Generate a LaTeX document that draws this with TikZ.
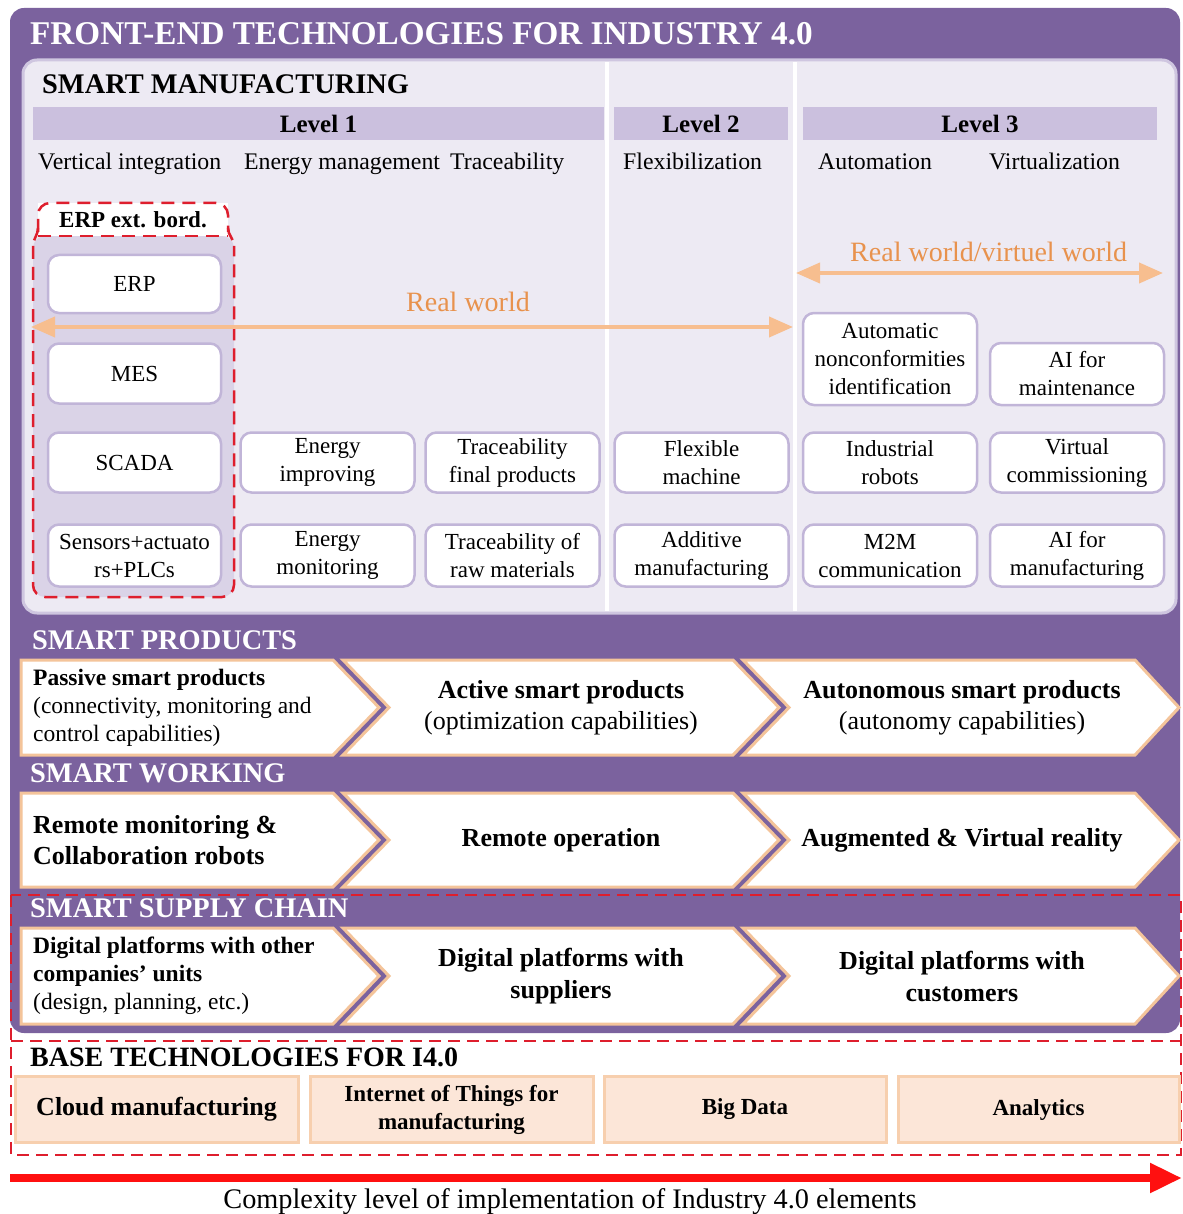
\documentclass[tikz,border=0pt]{standalone}
\usepackage{fontspec}
\setmainfont{Liberation Serif}
\usetikzlibrary{arrows.meta}
\definecolor{purp}{RGB}{123,98,158}
\definecolor{panel}{RGB}{237,234,243}
\definecolor{panelline}{RGB}{207,198,224}
\definecolor{levelbar}{RGB}{203,192,222}
\definecolor{boxline}{RGB}{193,181,216}
\definecolor{erpfill}{RGB}{218,211,231}
\definecolor{reddash}{RGB}{222,30,45}
\definecolor{orangearrow}{RGB}{247,190,143}
\definecolor{orangetext}{RGB}{232,146,77}
\definecolor{chevline}{RGB}{244,196,154}
\definecolor{basefill}{RGB}{252,230,216}
\definecolor{baseedge}{RGB}{247,207,174}
\definecolor{redarrow}{RGB}{255,16,16}
\newcommand\setfs[2]{\fontsize{#1}{#2}\selectfont}
\begin{document}
\begin{tikzpicture}[x=1pt,y=-1pt,
  techbox/.style={draw=boxline, fill=white, line width=2.5pt, rounded corners=11pt,
    align=center, font=\setfs{23}{28}, inner sep=0pt, minimum width=174pt, minimum height=60pt},
  levelbox/.style={fill=levelbar, inner sep=0pt, font=\setfs{25}{28}\bfseries, minimum height=33pt},
  sublabel/.style={anchor=base west, inner sep=0pt, font=\setfs{23.8}{28}},
  seclabel/.style={anchor=west, inner sep=0pt, text=white, font=\setfs{28.4}{32}\bfseries},
  warrow/.style={orangearrow, line width=4pt, {Triangle[length=24pt,width=20pt]}-{Triangle[length=24pt,width=20pt]}},
  wlabel/.style={anchor=base west, inner sep=0pt, text=orangetext, font=\setfs{28}{32}},
  chev/.style={draw=chevline, fill=white, line width=3pt, line join=miter},
  chevtxt/.style={align=center, inner sep=0pt, font=\setfs{26}{31}},
  chevfirst/.style={anchor=west, align=left, inner sep=0pt, font=\setfs{23.5}{28}},
  basebox/.style={draw=baseedge, fill=basefill, line width=3pt, align=center, inner sep=0pt,
    minimum width=280pt, minimum height=66pt, font=\setfs{23}{28}\bfseries},
  rdash/.style={draw=reddash, line width=2pt, dash pattern=on 12pt off 7pt}
]
\useasboundingbox (0,0) rectangle (1182,1214);
\fill[white] (0,0) rectangle (1182,1214);

% outer purple frame
\fill[purp, rounded corners=14pt] (10,8) rectangle (1180,1033);
\node[anchor=west, inner sep=0pt, text=white, font=\setfs{33.2}{36}\bfseries] (title) at (30,34)
  {FRONT-END TECHNOLOGIES FOR INDUSTRY 4.0};

% smart manufacturing panel
\draw[panelline, fill=panel, line width=3pt, rounded corners=14pt] (23,60) rectangle (1176,613);
\draw[white, line width=4pt] (607,62) -- (607,611);
\draw[white, line width=4pt] (795,62) -- (795,611);
\node[anchor=west, inner sep=0pt, font=\setfs{28.4}{32}\bfseries] (smtitle) at (42,84) {SMART MANUFACTURING};

\node[levelbox, minimum width=571pt] (lvl1) at (318.5,123.5) {Level 1};
\node[levelbox, minimum width=174pt] (lvl2) at (701,123.5) {Level 2};
\node[levelbox, minimum width=354pt] (lvl3) at (980,123.5) {Level 3};

\node[sublabel] (s1) at (38,170) {Vertical integration};
\node[sublabel] (s2) at (244,170) {Energy management};
\node[sublabel] (s3) at (450,170) {Traceability};
\node[sublabel] (s4) at (623,170) {Flexibilization};
\node[sublabel] (s5) at (818,170) {Automation};
\node[sublabel] (s6) at (989,170) {Virtualization};

% ERP extended border region
\fill[erpfill, rounded corners=12pt] (33,236) -- (33,597) -- (234,597) -- (234,236) -- cycle;
\fill[white] (38,203) rectangle (228,236);
\draw[reddash, line width=2.5pt, dash pattern=on 13pt off 8pt, rounded corners=12pt]
  (38,232) -- (38,203) -- (228,203) -- (228,232);
\draw[reddash, line width=2.5pt, dash pattern=on 13pt off 8pt]
  (38,236) -- (228,236);
\draw[reddash, line width=2.5pt, dash pattern=on 13pt off 8pt]
  (228,228) to[out=-90,in=90] (234,246);
\draw[reddash, line width=2.5pt, dash pattern=on 13pt off 8pt]
  (38,228) to[out=-90,in=90] (33,246);
\draw[reddash, line width=2.5pt, dash pattern=on 13pt off 8pt, rounded corners=12pt]
  (33,246) -- (33,597) -- (234,597) -- (234,246);
\node[inner sep=0pt, font=\setfs{23}{28}\bfseries] (erplabel) at (133,220) {ERP ext. bord.};

% column 1
\node[techbox, minimum width=173pt, minimum height=58pt] (erp) at (134.5,284) {ERP};
\node[techbox, minimum width=173pt] (mes) at (134.5,373.5) {MES};
\node[techbox, minimum width=173pt] (scada) at (134.5,462.5) {SCADA};
\node[techbox, minimum width=173pt, minimum height=62pt] (sens) at (134.5,555.5) {Sensors+actuato\\rs+PLCs};
% column 2, 3
\node[techbox] (enimp) at (327.5,462.5) {Energy\\improving};
\node[techbox, minimum height=62pt] (enmon) at (327.5,555.5) {Energy\\monitoring};
\node[techbox] (trfin) at (512.5,462.5) {Traceability\\final products};
\node[techbox, minimum height=62pt] (trraw) at (512.5,555.5) {Traceability of\\raw materials};
% column 4
\node[techbox] (flex) at (701.5,462.5) {Flexible\\machine};
\node[techbox, minimum height=62pt] (addm) at (701.5,555.5) {Additive\\manufacturing};
% column 5
\node[techbox, minimum height=92pt] (anc) at (890,359) {Automatic\\nonconformities\\identification};
\node[techbox] (indr) at (890,462.5) {Industrial\\robots};
\node[techbox, minimum height=62pt] (m2m) at (890,555.5) {M2M\\communication};
% column 6
\node[techbox, minimum height=62pt] (aimt) at (1077,374) {AI for\\maintenance};
\node[techbox] (vcom) at (1077,462.5) {Virtual\\commissioning};
\node[techbox, minimum height=62pt] (aimf) at (1077,555.5) {AI for\\manufacturing};

% world arrows
\coordinate (rwL) at (31,327);
\coordinate (rwR) at (793,327);
\draw[warrow] (rwL) -- (rwR);
\node[wlabel] (rwlabel) at (406,312) {Real world};
\coordinate (vwL) at (796,273);
\coordinate (vwR) at (1163,273);
\draw[warrow] (vwL) -- (vwR);
\node[wlabel] (vwlabel) at (850,262) {Real world/virtuel world};

% SMART PRODUCTS
\node[seclabel] (sp) at (32,640) {SMART PRODUCTS};
\draw[chev] (21,660) -- (333,660) -- (379,707.5) -- (333,755) -- (21,755) -- cycle;
\draw[chev] (343,660) -- (733,660) -- (779,707.5) -- (733,755) -- (343,755) -- (389,707.5) -- cycle;
\draw[chev] (743,660) -- (1135,660) -- (1179,707.5) -- (1135,755) -- (743,755) -- (789,707.5) -- cycle;
\node[chevfirst] (sp1) at (33,708) {\textbf{Passive smart products}\\(connectivity, monitoring and\\control capabilities)};
\node[chevtxt] (sp2) at (561,707.5) {\textbf{Active smart products}\\(optimization capabilities)};
\node[chevtxt] (sp3) at (962,707.5) {\textbf{Autonomous smart products}\\(autonomy capabilities)};

% SMART WORKING
\node[seclabel] (sw) at (30,773) {SMART WORKING};
\draw[chev] (21,793) -- (333,793) -- (379,840) -- (333,887) -- (21,887) -- cycle;
\draw[chev] (343,793) -- (733,793) -- (779,840) -- (733,887) -- (343,887) -- (389,840) -- cycle;
\draw[chev] (743,793) -- (1135,793) -- (1179,840) -- (1135,887) -- (743,887) -- (789,840) -- cycle;
\node[chevfirst, font=\setfs{26}{31}\bfseries] (sw1) at (33,840) {Remote monitoring \&\\Collaboration robots};
\node[chevtxt, font=\setfs{26}{31}\bfseries] (sw2) at (561,840) {Remote operation};
\node[chevtxt, font=\setfs{26}{31}\bfseries] (sw3) at (962,840) {Augmented \& Virtual reality};

% SMART SUPPLY CHAIN
\node[seclabel] (ssc) at (30,908.5) {SMART SUPPLY CHAIN};
\draw[chev] (21,928) -- (333,928) -- (379,976) -- (333,1024) -- (21,1024) -- cycle;
\draw[chev] (343,928) -- (733,928) -- (779,976) -- (733,1024) -- (343,1024) -- (389,976) -- cycle;
\draw[chev] (743,928) -- (1135,928) -- (1179,976) -- (1135,1024) -- (743,1024) -- (789,976) -- cycle;
\node[chevfirst] (sc1) at (33,976) {\textbf{Digital platforms with other}\\\textbf{companies’ units}\\(design, planning, etc.)};
\node[chevtxt, font=\setfs{26}{32}\bfseries] (sc2) at (561,976) {Digital platforms with\\suppliers};
\node[chevtxt, font=\setfs{26}{32}\bfseries] (sc3) at (962,976) {Digital platforms with\\customers};

% dashed red frames
\draw[rdash] (11,895) rectangle (1181,1155);
\draw[rdash] (11,1041) -- (1181,1041);

% base technologies
\node[anchor=west, inner sep=0pt, font=\setfs{28}{32}\bfseries] (basetitle) at (30,1057) {BASE TECHNOLOGIES FOR I4.0};
\node[basebox, minimum width=283pt, font=\setfs{26}{30}\bfseries] (cloud) at (156.5,1109.5) {Cloud manufacturing};
\node[basebox, minimum width=283pt] (iot) at (451.5,1109.5) {Internet of Things for\\manufacturing};
\node[basebox, minimum width=282pt] (bigd) at (745,1109.5) {Big Data};
\node[basebox, minimum width=281pt] (anal) at (1038.5,1109.5) {Analytics};

% complexity arrow
\coordinate (axL) at (10,1178);
\coordinate (axR) at (1182,1178);
\draw[redarrow, line width=8pt, -{Triangle[length=32pt,width=28pt]}] (axL) -- (axR);
\node[anchor=base, inner sep=0pt, font=\setfs{28.3}{32}] (caption) at (570,1208)
  {Complexity level of implementation of Industry 4.0 elements};
\end{tikzpicture}
\end{document}
